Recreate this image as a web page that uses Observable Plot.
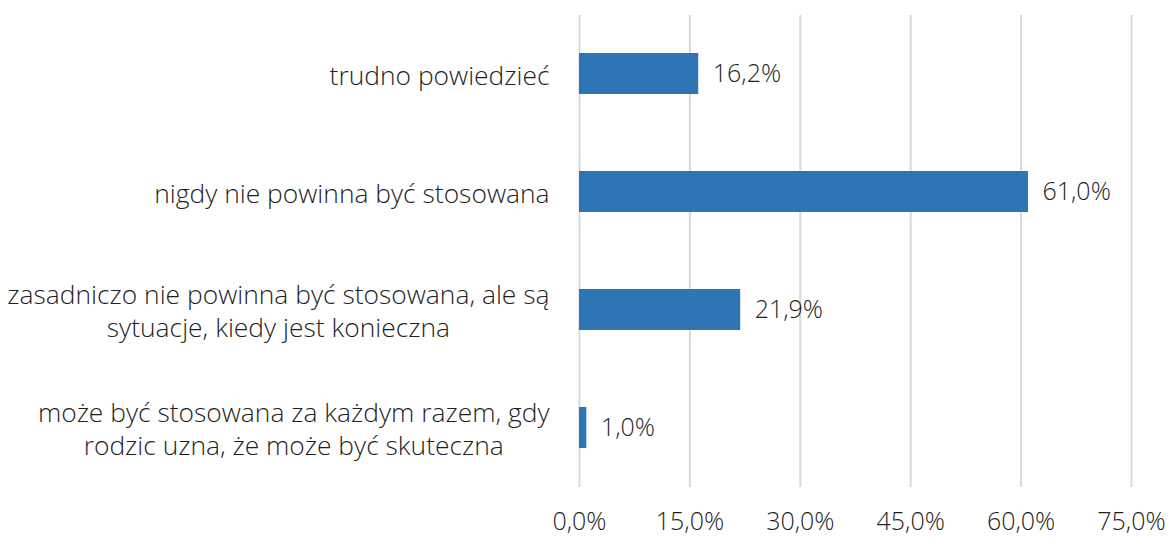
<!DOCTYPE html>
<html><head><meta charset="utf-8">
<script src="https://cdn.jsdelivr.net/npm/d3@7"></script>
<script src="https://cdn.jsdelivr.net/npm/@observablehq/plot@0.6"></script>
<style>body{margin:0;background:#fff}</style>
</head><body><div id="chart"></div>
<script>
const categories = [
  "trudno powiedzieć",
  "nigdy nie powinna być stosowana",
  "zasadniczo nie powinna być stosowana, ale są\nsytuacje, kiedy jest konieczna",
  "może być stosowana za każdym razem, gdy\nrodzic uzna, że może być skuteczna"
];
const values = [16.2, 61.0, 21.9, 1.0];
const xTicks = [0, 15, 30, 45, 60, 75];

const data = categories.map((c, i) => ({category: c, value: values[i]}));
const fmt = d => d.toFixed(1).replace(".", ",") + "%";
const FONT = "'Open Sans', sans-serif";

const chart = Plot.plot({
  width: 1170, height: 538,
  marginLeft: 579, marginRight: 39, marginTop: 15, marginBottom: 51,
  style: {fontFamily: FONT, fontWeight: 300, color: "#1f1f1f", background: "#fff"},
  x: {domain: [0, 75], label: null},
  y: {domain: categories, paddingInner: 0.65, paddingOuter: 0.325, axis: null, label: null},
  marks: [
    Plot.ruleX(xTicks, {stroke: "#d9d9d9", strokeWidth: 2}),
    Plot.barX(data, {x: "value", y: "category", fill: "#2E75B6"}),
    Plot.text(data, {x: "value", y: "category", text: d => fmt(d.value), textAnchor: "start", dx: 14, fontSize: 25}),
    Plot.axisX(xTicks, {tickSize: 0, tickPadding: 25, tickFormat: fmt, fontSize: 25, label: null}),
    Plot.axisY({tickSize: 0, tickPadding: 30, fontSize: 26.4, lineHeight: 1.25, label: null})
  ]
});
document.getElementById("chart").append(chart);

// Center multi-line category labels as blocks (Excel style), right-aligned to the axis
d3.select(chart).selectAll('g[aria-label="y-axis tick label"] text').each(function() {
  const tspans = d3.select(this).selectAll("tspan");
  if (tspans.size() < 2) return;
  let maxW = 0;
  tspans.each(function() { maxW = Math.max(maxW, this.getComputedTextLength()); });
  d3.select(this).attr("text-anchor", "middle");
  tspans.attr("x", -maxW / 2);
});
</script>
</body></html>
